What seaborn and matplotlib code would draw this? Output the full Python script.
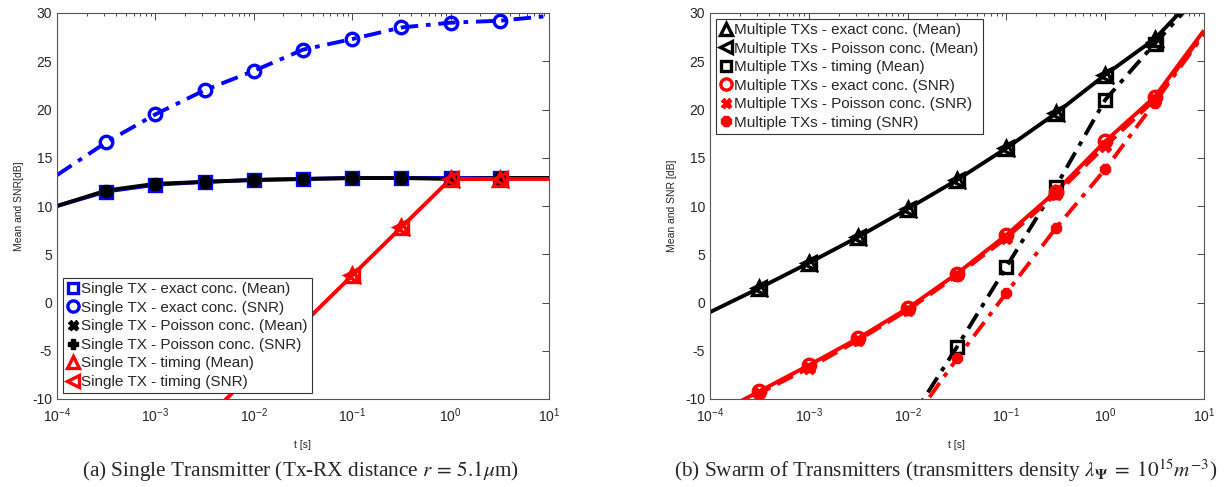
import numpy as np
import pandas as pd
import matplotlib
matplotlib.use("Agg")
import matplotlib.pyplot as plt
from matplotlib.ticker import FixedLocator, LogLocator, NullFormatter, FuncFormatter
import seaborn as sns

# time grid: half-decade steps from 1e-4 s to 10 s
t = 10.0 ** np.arange(-4.0, 1.01, 0.5)

# ---- (a) single transmitter ----
single_snr_exact = [13.2, 16.6, 19.5, 22.0, 24.0, 26.2, 27.3, 28.5, 29.0, 29.2, 29.7]
single_mean_exact = [10.0, 11.5, 12.2, 12.5, 12.7, 12.8, 12.9, 12.9, 12.9, 12.9, 12.9]
single_mean_poisson = [10.0, 11.6, 12.3, 12.5, 12.7, 12.8, 12.9, 12.9, 12.8, 12.9, 12.9]
single_snr_poisson = [10.0, 11.6, 12.3, 12.5, 12.7, 12.8, 12.9, 12.9, 12.8, 12.9, 12.9]
single_timing = [np.nan, np.nan, np.nan, -12.2, -7.2, -2.2, 2.8, 7.8, 12.8, 12.8, 12.8]
single_timing_sim_from = 6  # timing simulated from t = 0.1 s

# ---- (b) swarm of transmitters ----
multi_mean_exact = [-1.0, 1.5, 4.1, 6.8, 9.7, 12.7, 16.0, 19.6, 23.6, 27.3, 32.7]
multi_mean_poisson = [-1.0, 1.5, 4.1, 6.8, 9.7, 12.7, 16.0, 19.6, 23.6, 27.0, 32.7]
multi_mean_timing = [np.nan, np.nan, np.nan, np.nan, -12.6, -4.6, 3.7, 12.0, 21.0, 26.8, 32.4]
multi_snr_exact = [-11.9, -9.2, -6.5, -3.7, -0.6, 3.0, 7.0, 11.5, 16.7, 21.3, 28.2]
multi_snr_poisson = [-12.1, -9.4, -6.8, -3.9, -0.8, 2.8, 6.7, 11.2, 16.2, 21.0, 28.0]
multi_snr_timing = [np.nan, np.nan, np.nan, np.nan, -13.0, -5.8, 1.0, 7.7, 13.8, 20.7, 27.8]
multi_timing_sim_from = 5  # timing simulated from t = 10^-1.5 s

yticks = [-10, -5, 0, 5, 10, 15, 20, 25, 30]
xticks = [1e-4, 1e-3, 1e-2, 1e-1, 1e0, 1e1]

sns.set_theme(style="white")
plt.rcParams.update({
    "font.family": ["Liberation Sans", "DejaVu Sans"],
    "axes.unicode_minus": False,
    "mathtext.fontset": "custom",
    "mathtext.rm": "Liberation Sans",
    "mathtext.it": "Liberation Sans:italic",
    "mathtext.bf": "Liberation Sans:bold",
})

fig = plt.figure(figsize=(12.32, 4.87), dpi=100)
W, H = 1232, 487
axA = fig.add_axes([57 / W, 1 - 399 / H, (549 - 57) / W, (399 - 13) / H])
axB = fig.add_axes([710 / W, 1 - 399 / H, (1204 - 710) / W, (399 - 13) / H])

LW = 2.8
DASHDOT = (4.5, 2.0, 1.2, 2.0)
DASHED = (4.5, 2.0)


def curve(ax, y, color, dashes=None):
    df = pd.DataFrame({"t": t, "v": y}).dropna()
    sns.lineplot(data=df, x="t", y="v", ax=ax, color=color, lw=LW,
                 estimator=None, sort=False, legend=False)
    line = ax.lines[-1]
    if dashes is not None:
        line.set_dashes(dashes)
    line.set_solid_capstyle("butt")


def points(ax, y, start, marker, color, label, filled=False, ms=9, mew=2.4):
    df = pd.DataFrame({"t": t[start:10], "v": np.asarray(y, dtype=float)[start:10]}).dropna()
    sns.lineplot(data=df, x="t", y="v", ax=ax, color=color, linestyle="",
                 marker=marker, markersize=ms, markeredgewidth=mew,
                 markeredgecolor=color,
                 markerfacecolor=color if filled else "none",
                 estimator=None, sort=False, label=label, legend=False)


# (a) theory curves
curve(axA, single_snr_exact, "#0000ff", DASHDOT)
curve(axA, single_mean_exact, "#0000ff")
curve(axA, single_mean_poisson, "black")
curve(axA, single_timing, "#ff0000")
# (a) simulation points
points(axA, single_mean_exact, 1, "s", "#0000ff", "Single TX - exact conc. (Mean)", ms=8)
points(axA, single_snr_exact, 1, "o", "#0000ff", "Single TX - exact conc. (SNR)", ms=9)
points(axA, single_mean_poisson, 1, "X", "black", "Single TX - Poisson conc. (Mean)", filled=True, ms=8, mew=1)
points(axA, single_snr_poisson, 1, "P", "black", "Single TX - Poisson conc. (SNR)", filled=True, ms=8, mew=1)
points(axA, single_timing, single_timing_sim_from, "^", "#ff0000", "Single TX - timing (Mean)", ms=10)
points(axA, single_timing, single_timing_sim_from, "<", "#ff0000", "Single TX - timing (SNR)", ms=10)

# (b) theory curves
curve(axB, multi_mean_exact, "black")
curve(axB, multi_mean_timing, "black", DASHDOT)
curve(axB, multi_snr_poisson, "#ff0000", DASHED)
curve(axB, multi_snr_exact, "#ff0000")
curve(axB, multi_snr_timing, "#ff0000", DASHDOT)
# (b) simulation points
points(axB, multi_mean_exact, 1, "^", "black", "Multiple TXs - exact conc. (Mean)", ms=10)
points(axB, multi_mean_poisson, 1, "<", "black", "Multiple TXs - Poisson conc. (Mean)", ms=10)
points(axB, multi_mean_timing, multi_timing_sim_from, "s", "black", "Multiple TXs - timing (Mean)", ms=8)
points(axB, multi_snr_exact, 1, "o", "#ff0000", "Multiple TXs - exact conc. (SNR)", ms=9)
points(axB, multi_snr_poisson, 1, "X", "#ff0000", "Multiple TXs - Poisson conc. (SNR)", filled=True, ms=8, mew=1)
points(axB, multi_snr_timing, multi_timing_sim_from, "8", "#ff0000", "Multiple TXs - timing (SNR)", filled=True, ms=8, mew=1)


def style(ax, ylabel):
    ax.set_xscale("log")
    ax.set_xlim(1e-4, 10)
    ax.set_ylim(-10, 30)
    ax.yaxis.set_major_locator(FixedLocator(yticks))
    ax.xaxis.set_major_locator(FixedLocator(xticks))
    ax.xaxis.set_minor_locator(LogLocator(base=10, subs=np.arange(2, 10)))
    ax.xaxis.set_minor_formatter(NullFormatter())
    ax.xaxis.set_major_formatter(FuncFormatter(
        lambda v, p: r"$\mathregular{10^{%d}}$" % int(round(np.log10(v)))))
    ax.yaxis.set_major_formatter(FuncFormatter(lambda v, p: "%d" % v))
    ax.tick_params(which="both", direction="in", top=True, right=True,
                   colors="#262626", labelcolor="#262626", labelsize=10)
    ax.tick_params(which="major", length=5, width=0.6)
    ax.tick_params(which="minor", length=2.5, width=0.6)
    ax.tick_params(axis="x", pad=5)
    for s in ax.spines.values():
        s.set_color("#555555")
        s.set_linewidth(0.8)
        s.set_visible(True)
    ax.set_xlabel("t [s]", fontsize=7.5, labelpad=11, color="#262626")
    ax.set_ylabel(ylabel, fontsize=7.5, labelpad=6, color="#262626")
    ax.grid(False)


style(axA, "Mean and SNR[dB]")
style(axB, "Mean and SNR [dB]")

leg_kw = dict(fontsize=11, handlelength=0.85, handletextpad=0.1, borderpad=0.25,
              labelspacing=0.3, borderaxespad=0.4, fancybox=False,
              framealpha=1, edgecolor="#333333", markerscale=0.9)
legA = axA.legend(loc="lower left", **leg_kw)
legB = axB.legend(loc="upper left", **leg_kw)
for lg in (legA, legB):
    lg.get_frame().set_linewidth(0.8)

cap_kw = dict(ha="center", va="center", fontsize=15.3,
              family=["Liberation Serif", "DejaVu Serif"], math_fontfamily="stix")
fig.text(300 / W, 1 - 471 / H,
         r"(a) Single Transmitter (Tx-RX distance $r\,=\,5.1\mu$m)", **cap_kw)
fig.text(946 / W, 1 - 471 / H,
         r"(b) Swarm of Transmitters (transmitters density $\lambda_{\mathbf{\Psi}}\;=\;10^{15}m^{-3}$)",
         **cap_kw)

fig.savefig("out.png", dpi=100)
